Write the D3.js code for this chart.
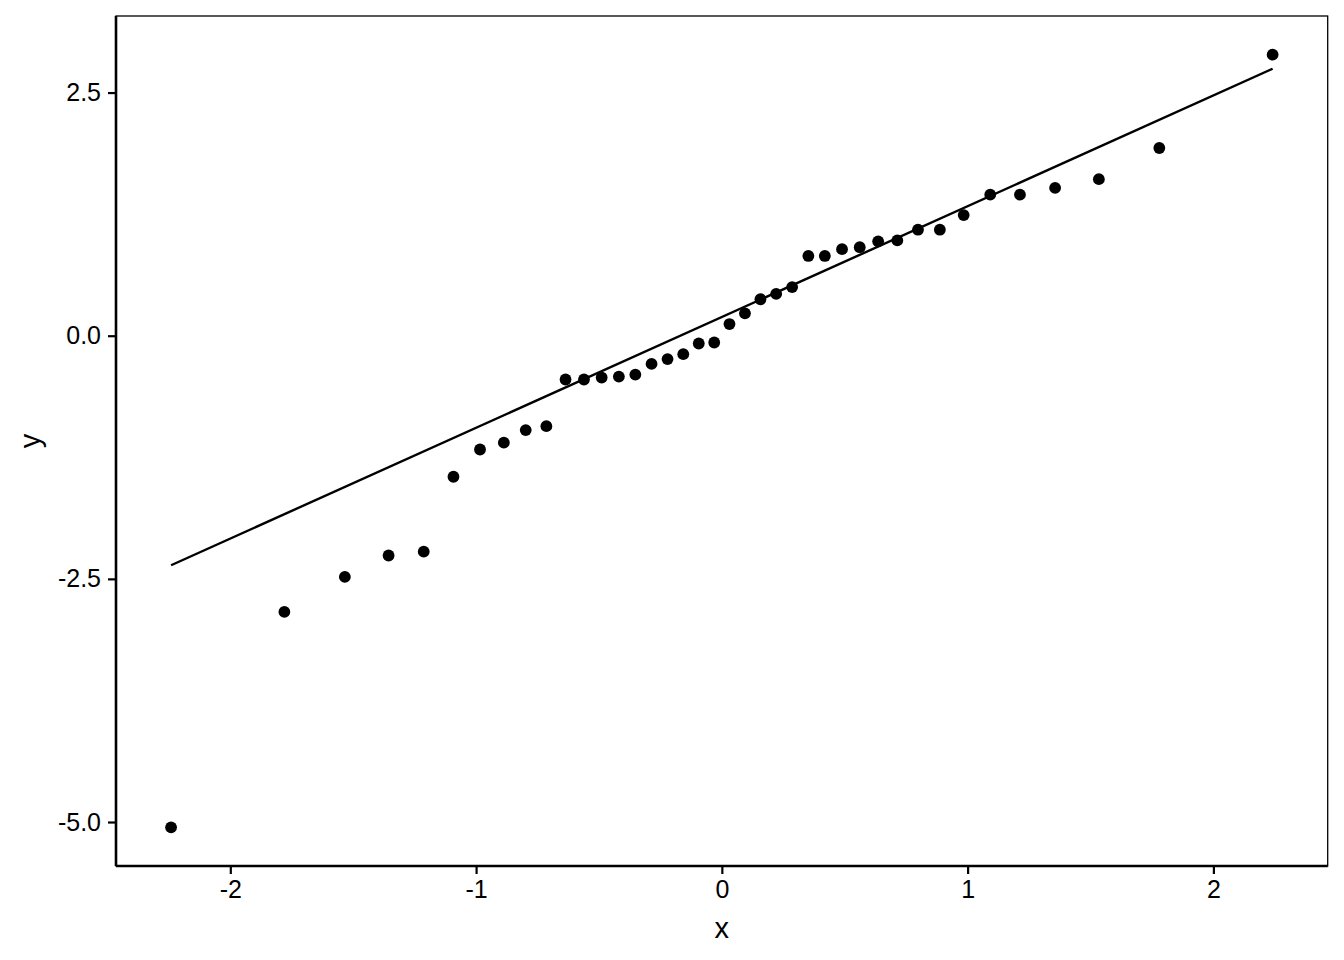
<!DOCTYPE html>
<html>
<head>
<meta charset="utf-8">
<script src="https://cdn.jsdelivr.net/npm/d3@7"></script>
<style>
  html, body { margin: 0; padding: 0; background: #fff; }
  svg { display: block; font-family: "Liberation Sans", Arial, sans-serif; }
</style>
</head>
<body>
<svg id="chart" width="1344" height="960"></svg>
<script>
// Theoretical quantiles (x) and sample values (y)
const theoretical = [-2.241, -1.780, -1.534, -1.356, -1.213, -1.092, -0.984, -0.887, -0.798, -0.714,
                     -0.636, -0.561, -0.489, -0.419, -0.352, -0.286, -0.221, -0.157, -0.094, -0.031,
                      0.031,  0.094,  0.157,  0.221,  0.286,  0.352,  0.419,  0.489,  0.561,  0.636,
                      0.714,  0.798,  0.887,  0.984,  1.092,  1.213,  1.356,  1.534,  1.780,  2.241];
const sample = [-5.055, -2.84, -2.48, -2.26, -2.22, -1.45, -1.17, -1.10, -0.97, -0.93,
                -0.45, -0.45, -0.43, -0.42, -0.40, -0.29, -0.24, -0.19, -0.08, -0.07,
                 0.12,  0.23,  0.375, 0.43,  0.50,  0.82,  0.82,  0.89,  0.91,  0.97,
                 0.98,  1.09,  1.09,  1.24,  1.45,  1.45,  1.52,  1.61,  1.93,  2.89];
// Reference line endpoints
const lineX = [-2.241, 2.241];
const lineY = [-2.36, 2.745];
// Tick values / labels
const xTicks = [-2, -1, 0, 1, 2];
const xTickLabels = ["-2", "-1", "0", "1", "2"];
const yTicks = [-5, -2.5, 0, 2.5];
const yTickLabels = ["-5.0", "-2.5", "0.0", "2.5"];
const xTitle = "x";
const yTitle = "y";

const svg = d3.select("#chart");
const panel = { left: 116, right: 1327.7, top: 16, bottom: 866 };

function expand(ext, f) { const r = ext[1] - ext[0]; return [ext[0] - f * r, ext[1] + f * r]; }
const xDom = expand(d3.extent(theoretical), 0.05);
const yDom = expand(d3.extent(sample), 0.05);

const x = d3.scaleLinear().domain(xDom).range([panel.left, panel.right]);
const y = d3.scaleLinear().domain(yDom).range([panel.bottom, panel.top]);

// border (top & right thin)
svg.append("rect")
  .attr("x", panel.left).attr("y", panel.top)
  .attr("width", panel.right - panel.left).attr("height", panel.bottom - panel.top)
  .attr("fill", "none").attr("stroke", "#000").attr("stroke-width", 1.3);

// reference line
svg.append("path")
  .datum(lineX.map((d, i) => [d, lineY[i]]))
  .attr("d", d3.line().x(d => x(d[0])).y(d => y(d[1])))
  .attr("fill", "none").attr("stroke", "#000").attr("stroke-width", 2.4);

// points
svg.append("g").selectAll("circle")
  .data(theoretical.map((d, i) => [d, sample[i]]))
  .join("circle")
  .attr("cx", d => x(d[0])).attr("cy", d => y(d[1]))
  .attr("r", 5.9).attr("fill", "#000");

// axes
const xAxis = svg.append("g")
  .attr("transform", `translate(0,${panel.bottom})`)
  .call(d3.axisBottom(x).tickValues(xTicks).tickFormat((d, i) => xTickLabels[i]).tickSize(8).tickPadding(6));
const yAxis = svg.append("g")
  .attr("transform", `translate(${panel.left},0)`)
  .call(d3.axisLeft(y).tickValues(yTicks).tickFormat((d, i) => yTickLabels[i]).tickSize(8).tickPadding(7));

[xAxis, yAxis].forEach(g => {
  g.select(".domain").attr("stroke", "#000").attr("stroke-width", 2.6);
  g.selectAll(".tick line").attr("stroke", "#000").attr("stroke-width", 2.2);
  g.selectAll(".tick text").attr("fill", "#000")
    .style("font-size", "25px").style("font-family", "'Liberation Sans', Arial, sans-serif");
});
// keep axis lines to the panel extent
xAxis.select(".domain").attr("d", `M${panel.left},0H${panel.right}`);
yAxis.select(".domain").attr("d", `M0,${panel.bottom}V${panel.top}`);

// titles
svg.append("text")
  .attr("x", (panel.left + panel.right) / 2).attr("y", 938)
  .attr("text-anchor", "middle").style("font-size", "29px").attr("fill", "#000")
  .text(xTitle);
svg.append("text")
  .attr("transform", `translate(40,${(panel.top + panel.bottom) / 2}) rotate(-90)`)
  .attr("text-anchor", "middle").style("font-size", "29px").attr("fill", "#000")
  .text(yTitle);
</script>
</body>
</html>
